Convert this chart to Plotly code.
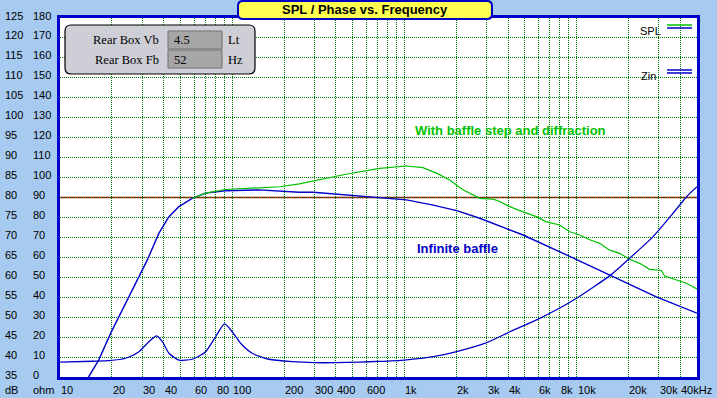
import math
import plotly.graph_objects as go

# ---------------- data ----------------
spl_freq = [14.0, 14.7, 16.8, 19.7, 25.1, 32.1, 37.5, 42.9, 49.0, 58.6, 70.0, 91.0, 143, 204, 245, 295,
            421, 607, 822, 1028, 1468, 2010, 2739, 3578, 4886, 8730, 16260, 29040, 50000]
spl_infinite = [33.3, 35.1, 39.3, 46.0, 55.1, 64.3, 71.0, 75.2, 77.7, 79.8, 81.1, 81.7, 81.9, 81.5, 81.3, 81.3,
                80.8, 80.2, 79.8, 79.4, 78.1, 76.7, 74.8, 72.9, 70.6, 65.6, 60.2, 55.1, 51.0]

baffle_freq = [58.6, 70.0, 91.0, 143, 189, 245, 295, 465, 716, 1028,
               1280, 1535, 1830, 2200, 2739, 3272, 3578, 4090, 4886, 5844,
               6677, 7978, 9120, 10420, 11910, 13610, 15560, 17780, 20320, 23230,
               26550, 31050, 32460, 37940, 43360, 50000]
spl_baffle = [79.8, 81.1, 82.0, 82.5, 82.7, 83.4, 84.1, 85.9, 87.3, 87.9,
              87.5, 86.1, 84.4, 81.9, 79.8, 79.6, 79.0, 77.7, 76.4, 75.2,
              73.9, 73.1, 71.4, 70.6, 69.4, 68.5, 66.8, 66.0, 64.5, 63.5,
              62.0, 61.7, 60.3, 59.3, 58.5, 57.1]

zin_freq = [10, 15.4, 19.25, 24.06, 28.74, 32.85, 36.4, 39.3, 42.9, 49.1,
            58.6, 70.1, 80.1, 90.3, 100, 111.9, 130.6, 163.3, 222.9, 300,
            400, 552, 700, 1000, 1500, 2010, 3000, 4100, 6110, 10000,
            15800, 20000, 27800, 36300, 43500, 50000]
zin_ohm = [7.5, 7.9, 8.2, 9.4, 12.7, 17.7, 20.6, 17.7, 11.9, 8.5,
           8.9, 12.7, 20.2, 26.6, 22.7, 16.9, 11.9, 8.9, 7.7, 7.2,
           7.2, 7.5, 7.8, 8.5, 10.3, 12.7, 17.2, 22.7, 29.4, 39.5,
           51.2, 59.0, 70.4, 82.1, 90.4, 95.4]

db_ticks = [35, 40, 45, 50, 55, 60, 65, 70, 75, 80, 85, 90, 95, 100, 105, 110, 115, 120, 125]
ohm_ticks = [0, 10, 20, 30, 40, 50, 60, 70, 80, 90, 100, 110, 120, 130, 140, 150, 160, 170, 180]
freq_tick_vals = [10, 20, 30, 40, 60, 80, 100, 200, 300, 400, 600, 1000, 2000, 3000, 4000, 6000, 8000,
                  10000, 20000, 30000, 40000]
freq_tick_text = ["10", "20", "30", "40", "60", "80", "100", "200", "300", "400", "600", "1k", "2k", "3k",
                  "4k", "6k", "8k", "10k", "20k", "30k", "40kHz"]

box_labels = ["Rear Box Vb", "Rear Box Fb"]
box_values = ["4.5", "52"]
box_units = ["Lt", "Hz"]

# ---------------- layout helpers ----------------
W, H = 717, 398
L, R, T, B = 60, 697, 18, 377


def px(x):
    return (x - L) / (R - L)


def py(y):
    return (B - y) / (B - T)


def rrect_path(x0, y0, x1, y1, r):
    pts = [
        ("M", [(x0 + r, y0)]), ("L", [(x1 - r, y0)]), ("Q", [(x1, y0), (x1, y0 + r)]),
        ("L", [(x1, y1 - r)]), ("Q", [(x1, y1), (x1 - r, y1)]), ("L", [(x0 + r, y1)]),
        ("Q", [(x0, y1), (x0, y1 - r)]), ("L", [(x0, y0 + r)]), ("Q", [(x0, y0), (x0 + r, y0)]),
    ]
    s = ""
    for cmd, ps in pts:
        s += cmd + " " + " ".join(f"{px(a):.5f},{py(b):.5f}" for a, b in ps) + " "
    return s + "Z"


BLUE = "#0000C8"
GREEN = "#00C000"
GRID = "#008000"
BG = "#A6CAF0"
FONT = "Liberation Sans"
DOT = "1px,1px"

grid_x = [m * 10 ** d for d in range(1, 5) for m in range(1, 10) if m * 10 ** d <= 50000][1:]

fig = go.Figure()
fig.add_trace(go.Scatter(x=zin_freq, y=zin_ohm, yaxis="y2", mode="lines",
                         line=dict(color=BLUE, width=1.3, shape="spline", smoothing=0.6), showlegend=False))
fig.add_trace(go.Scatter(x=spl_freq, y=spl_infinite, mode="lines",
                         line=dict(color=BLUE, width=1.4), showlegend=False))
fig.add_trace(go.Scatter(x=baffle_freq, y=spl_baffle, mode="lines",
                         line=dict(color=GREEN, width=1.2), showlegend=False))

shapes = []
# 80 dB reference line
shapes.append(dict(type="line", xref="paper", yref="y", x0=0, x1=1, y0=80, y1=80,
                   line=dict(color="#B00000", width=1.5), layer="below"))
# title box
shapes.append(dict(type="path", xref="paper", yref="paper", path=rrect_path(238, 1, 492, 19, 5),
                   fillcolor="#FFFF50", line=dict(color=BLUE, width=2), layer="above"))
# inset box
shapes.append(dict(type="path", xref="paper", yref="paper", path=rrect_path(65, 25, 255, 74, 6),
                   fillcolor="#CDCED6", line=dict(color="black", width=1.2), layer="above"))
for i, (y0, y1) in enumerate([(31, 49), (50, 68)]):
    shapes.append(dict(type="rect", xref="paper", yref="paper", x0=px(168), x1=px(222), y0=py(y1), y1=py(y0),
                       fillcolor="#A6A6A6", line=dict(color="#707070", width=1), layer="above"))
# legend lines
for yy, col in [(25, GREEN), (28, BLUE), (70, BLUE), (73, BLUE)]:
    shapes.append(dict(type="line", xref="paper", yref="paper", x0=px(667), x1=px(692), y0=py(yy), y1=py(yy),
                       line=dict(color=col, width=1.5), layer="above"))

ann = []
lab_font = dict(family=FONT, size=11, color="black")
for d, o in zip(db_ticks, ohm_ticks):
    ann.append(dict(x=px(3), y=d, xref="paper", yref="y", text=str(d), showarrow=False,
                    xanchor="left", yanchor="middle", yshift=2.5, font=lab_font))
    ann.append(dict(x=px(31), y=d, xref="paper", yref="y", text=str(o), showarrow=False,
                    xanchor="left", yanchor="middle", yshift=2.5, font=lab_font))
ann.append(dict(x=px(3), y=py(390), xref="paper", yref="paper", text="dB", showarrow=False,
                xanchor="left", yanchor="middle", font=lab_font))
ann.append(dict(x=px(31), y=py(390), xref="paper", yref="paper", text="ohm", showarrow=False,
                xanchor="left", yanchor="middle", font=lab_font))
for fv, ft in zip(freq_tick_vals, freq_tick_text):
    ann.append(dict(x=math.log10(fv), y=py(390), xref="x", yref="paper", text=ft, showarrow=False,
                    xanchor="left", xshift=-1, yanchor="middle", font=lab_font))

# title
ann.append(dict(x=px(365), y=py(9.5), xref="paper", yref="paper", text="<b>SPL / Phase vs. Frequency</b>",
                showarrow=False, xanchor="center", yanchor="middle",
                font=dict(family=FONT, size=13, color="black")))
# inset box texts
serif = dict(family="Liberation Serif", size=12.5, color="black")
for lbl, val, unit, yy in zip(box_labels, box_values, box_units, [40, 59.5]):
    ann.append(dict(x=px(161), y=py(yy), xref="paper", yref="paper", text=lbl, showarrow=False,
                    xanchor="right", yanchor="middle", font=serif))
    ann.append(dict(x=px(172), y=py(yy), xref="paper", yref="paper", text=val, showarrow=False,
                    xanchor="left", yanchor="middle", font=serif))
    ann.append(dict(x=px(226), y=py(yy), xref="paper", yref="paper", text=unit, showarrow=False,
                    xanchor="left", yanchor="middle", font=serif))
# legend texts
ann.append(dict(x=px(663), y=py(31.5), xref="paper", yref="paper", text="SPL", showarrow=False,
                xanchor="right", yanchor="middle", font=lab_font))
ann.append(dict(x=px(658), y=py(76), xref="paper", yref="paper", text="Zin", showarrow=False,
                xanchor="right", yanchor="middle", font=lab_font))
# curve labels
ann.append(dict(x=px(510), y=py(130), xref="paper", yref="paper",
                text="<b>With baffle step and diffraction</b>", showarrow=False,
                xanchor="center", yanchor="middle", font=dict(family=FONT, size=13, color=GREEN)))
ann.append(dict(x=px(415), y=py(248), xref="paper", yref="paper",
                text="<b>Infinite baffle</b>", showarrow=False,
                xanchor="left", yanchor="middle", font=dict(family=FONT, size=13, color=BLUE)))

fig.update_layout(
    width=W, height=H, autosize=False,
    margin=dict(l=L, r=W - R, t=T, b=H - B, pad=0),
    paper_bgcolor=BG, plot_bgcolor="white",
    showlegend=False,
    xaxis=dict(type="log", range=[1, math.log10(50000)], tickvals=grid_x, showticklabels=False,
               ticks="", showgrid=True, gridcolor=GRID, griddash=DOT, gridwidth=1,
               showline=True, linecolor=BLUE, linewidth=3, mirror=True, zeroline=False, fixedrange=True),
    yaxis=dict(range=[35, 125], tickvals=list(range(40, 125, 5)), showticklabels=False, ticks="",
               showgrid=True, gridcolor=GRID, griddash=DOT, gridwidth=1,
               showline=True, linecolor=BLUE, linewidth=3, mirror=True, zeroline=False),
    yaxis2=dict(range=[0, 180], overlaying="y", side="right", showgrid=False, showticklabels=False,
                ticks="", zeroline=False, showline=False),
    shapes=shapes, annotations=ann,
)

fig.write_html("out.html", config={"displayModeBar": False},
               post_script="document.body.style.margin='0';document.body.style.padding='0';"
                           "document.body.style.overflow='hidden';")
